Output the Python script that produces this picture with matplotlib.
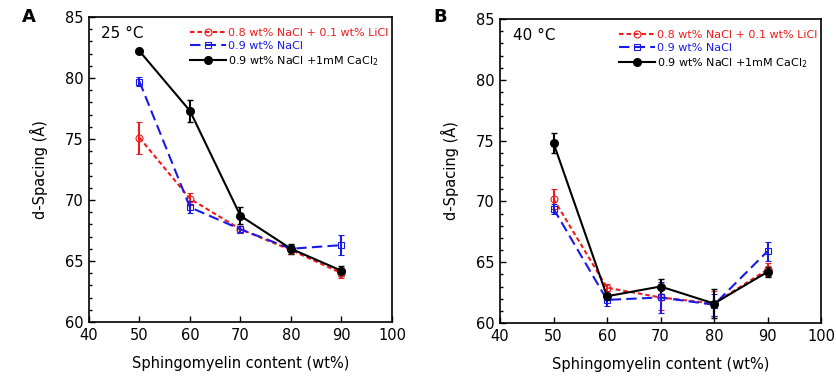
import numpy as np
import matplotlib
matplotlib.use("Agg")
import matplotlib.pyplot as plt

plt.rcParams['font.family'] = 'DejaVu Sans'

sm = [50, 60, 70, 80, 90]
labels = ['0.8 wt% NaCl + 0.1 wt% LiCl', '0.9 wt% NaCl', r'0.9 wt% NaCl +1mM CaCl$_2$']

# 25 C
li_25 = [75.1, 70.1, 67.6, 65.9, 64.0]
li_25_err = [1.3, 0.5, 0.3, 0.3, 0.4]
na_25 = [79.7, 69.4, 67.6, 66.0, 66.3]
na_25_err = [0.35, 0.5, 0.3, 0.3, 0.8]
ca_25 = [82.2, 77.3, 68.7, 66.0, 64.2]
ca_25_err = [0.0, 0.9, 0.7, 0.4, 0.4]

# 40 C
li_40 = [70.2, 62.9, 62.1, 61.6, 64.4]
li_40_err = [0.8, 0.3, 1.0, 1.0, 0.5]
na_40 = [69.4, 61.9, 62.1, 61.5, 65.9]
na_40_err = [0.4, 0.5, 1.25, 0.9, 0.8]
ca_40 = [74.8, 62.2, 63.0, 61.6, 64.2]
ca_40_err = [0.8, 0.3, 0.6, 1.2, 0.4]

fig = plt.figure(figsize=(8.37, 3.79), dpi=100)
axA = fig.add_axes([0.1063, 0.1504, 0.362, 0.805])
axB = fig.add_axes([0.5974, 0.1478, 0.3835, 0.802])


def draw(ax, li, li_e, na, na_e, ca, ca_e, temp):
    e1 = ax.errorbar(sm, li, yerr=li_e, color='#ee1c1c', ls=(0, (2.2, 1.4)), lw=1.5,
                     marker='o', ms=5, mfc='none', mew=0.8, capsize=2.5, elinewidth=1.5)
    e2 = ax.errorbar(sm, na, yerr=na_e, color='#1a1ae6', ls=(0, (5, 2.5)), lw=1.5,
                     marker='s', ms=5, mfc='none', mew=0.8, capsize=2.5, elinewidth=1.5)
    e3 = ax.errorbar(sm, ca, yerr=ca_e, color='black', ls='-', lw=1.5,
                     marker='o', ms=5.5, capsize=2.5, elinewidth=1.5)
    ax.set_xlim(40, 100)
    ax.set_ylim(60, 85)
    ax.set_xticks(range(40, 101, 10))
    ax.set_yticks(range(60, 86, 5))
    ax.set_yticks(range(60, 86, 1), minor=True)
    ax.tick_params(direction='in', length=4, width=1, labelsize=10.5, pad=4)
    ax.tick_params(which='minor', direction='in', length=2.5, width=1)
    for s in ax.spines.values():
        s.set_linewidth(1.2)
    ax.set_xlabel('Sphingomyelin content (wt%)', fontsize=10.5, labelpad=10)
    ax.set_ylabel('d-Spacing (Å)', fontsize=10.5, labelpad=12)
    ax.text(0.04, 0.97, temp, transform=ax.transAxes, fontsize=11, va='top')
    leg = ax.legend([e1[0], e2[0], e3[0]], labels, loc='upper right',
                    bbox_to_anchor=(1.01, 0.985), frameon=False,
                    fontsize=8, handlelength=3.2, handletextpad=0.2,
                    labelspacing=0.25, borderaxespad=0.2)
    for t, c in zip(leg.get_texts(), ['#ee1c1c', '#1a1ae6', 'black']):
        t.set_color(c)


draw(axA, li_25, li_25_err, na_25, na_25_err, ca_25, ca_25_err, '25 °C')
draw(axB, li_40, li_40_err, na_40, na_40_err, ca_40, ca_40_err, '40 °C')

fig.text(22 / 837, 1 - 17 / 379, 'A', fontsize=13, fontweight='bold', va='center', ha='left')
fig.text(433 / 837, 1 - 17 / 379, 'B', fontsize=13, fontweight='bold', va='center', ha='left')

fig.savefig('out.png', dpi=100)
